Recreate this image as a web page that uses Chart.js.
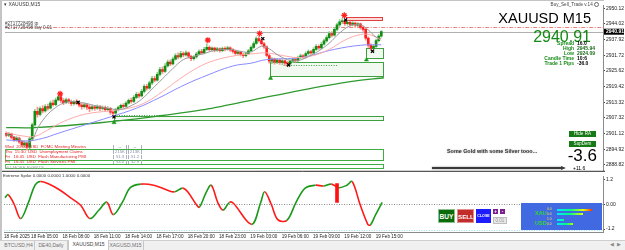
<!DOCTYPE html>
<html><head><meta charset="utf-8">
<script src="https://cdn.jsdelivr.net/npm/chart.js"></script>
<style>
html,body{margin:0;padding:0}
body{width:625px;height:250px;position:relative;overflow:hidden;background:#fff;font-family:"Liberation Sans",Arial,sans-serif;color:#000}
canvas{position:absolute;left:0}
#cMain{top:0}
#cSub{top:173px}
.t{position:absolute;white-space:nowrap;line-height:1}
.ev{position:absolute;left:5px;font-size:4.3px;color:#e02020;white-space:nowrap;line-height:1}
.vb{position:absolute;font-size:4.2px;color:#8090a8;border-left:1px solid #a8b4c4;border-right:1px solid #a8b4c4;width:12px;text-align:center;line-height:1}
.lbl{position:absolute;right:51px;font-size:5px;color:#1a8a1a;text-align:right;line-height:1;font-weight:bold}
.val{position:absolute;left:577px;font-size:5px;color:#000;line-height:1;font-weight:bold}
.btn{position:absolute;color:#fff;font-weight:bold;text-align:center;box-sizing:border-box}
.tab{position:absolute;top:241px;height:9px;font-size:5px;color:#707070;line-height:9px;text-align:center;border-right:1px solid #c8c8c8}
.bar{position:absolute;height:2.4px}
.num{position:absolute;font-size:3.2px;color:#ffe14a;line-height:1}
</style></head><body>
<canvas id="cMain" width="625" height="176"></canvas>
<canvas id="cSub" width="625" height="67"></canvas>

<div style="position:absolute;left:0;top:0;width:2px;height:240px;background:#c4c4c4"></div>
<div style="position:absolute;left:0;top:0;width:604px;height:1px;background:#c4c4c4"></div>

<div class="t" style="left:4px;top:2px;font-size:5px;color:#333">&#9662; XAUUSD,M15</div>
<div class="t" style="left:5px;top:21.5px;font-size:4.6px;color:#444">#2717728498 tp</div>
<div class="t" style="left:5px;top:26px;font-size:4.6px;color:#444">#2717725498 buy 0.01</div>
<div class="t" style="right:26px;top:1.5px;font-size:4.6px;color:#444">Buy_Sell_Trade v.14 <span style="display:inline-block;width:3px;height:3px;border:0.8px solid #666;border-radius:50%;vertical-align:middle"></span></div>
<div class="t" style="right:34px;top:11px;font-size:14.5px;color:#000">XAUUSD M15</div>
<div class="t" style="right:34px;top:29px;font-size:16px;color:#138a13">2940.91</div>

<div class="lbl" style="top:41px">Spread</div><div class="val" style="top:41px">16.0</div>
<div class="lbl" style="top:46px">High</div><div class="val" style="top:46px;color:#1a6a1a">2945.94</div>
<div class="lbl" style="top:51px">Low</div><div class="val" style="top:51px;color:#1a6a1a">2924.09</div>
<div class="lbl" style="top:56px">Candle Time</div><div class="val" style="top:56px">10:6</div>
<div class="lbl" style="top:61px">Trade 1 Pips</div><div class="val" style="top:61px">-36.0</div>

<div class="btn" style="left:569px;top:130.5px;width:27px;height:6px;background:#167a16;font-size:4.6px;line-height:6px;font-weight:normal">Hide RA</div>
<div class="btn" style="left:569px;top:140.5px;width:27px;height:6px;background:#167a16;font-size:4.6px;line-height:6px;font-weight:normal">SupDem</div>

<div class="t" style="left:447px;top:148.5px;font-size:5.4px;font-weight:bold;color:#3a3a3a;text-shadow:0 0 1.5px #999">Some Gold with some Silver tooo...</div>
<div style="position:absolute;left:432px;top:167px;width:130px;height:2px;background:#3a3a3a;box-shadow:0 0 2px #888"></div>
<div style="position:absolute;left:561px;top:165.5px;width:0;height:0;border-top:2.5px solid transparent;border-bottom:2.5px solid transparent;border-left:5px solid #3a3a3a"></div>
<div class="t" style="right:28px;top:146.8px;font-size:17px;color:#000">-3.6</div>
<div class="t" style="left:573px;top:165.5px;font-size:5px;color:#000">+11.6</div>

<div class="ev" style="top:144.8px">Wed&nbsp; 20:00&nbsp; USD&nbsp; FOMC Meeting Minutes</div>
<div class="ev" style="top:149.8px">Thu&nbsp; 15:30&nbsp; USD&nbsp; Unemployment Claims</div>
<div class="ev" style="top:154.8px">Fri&nbsp;&nbsp; 16:45&nbsp; USD&nbsp; Flash Manufacturing PMI</div>
<div class="ev" style="top:159.8px">Fri&nbsp;&nbsp; 16:45&nbsp; USD&nbsp; Flash Services PMI</div>
<div class="ev" style="top:165.5px;color:#a0a0a0">NO MORE EVENTS</div>
<div class="vb" style="left:113px;top:144.8px">--</div><div class="vb" style="left:128px;top:144.8px">--</div>
<div class="vb" style="left:113px;top:149.8px">215K</div><div class="vb" style="left:128px;top:149.8px">213K</div>
<div class="vb" style="left:113px;top:154.8px">51.3</div><div class="vb" style="left:128px;top:154.8px">51.2</div>
<div class="vb" style="left:113px;top:159.8px">53.0</div><div class="vb" style="left:128px;top:159.8px">52.9</div>

<div class="t" style="left:3px;top:174px;font-size:4.4px;color:#333">Extreme Spike 0.0000 0.0000 1.0000 0.0000</div>

<div class="btn" style="left:438px;top:209px;width:17px;height:14px;background:#0b6b0b;font-size:6.6px;line-height:14px;border:0.6px solid #8cc08c">BUY</div>
<div class="btn" style="left:457px;top:209px;width:17px;height:14px;background:#c42b2b;font-size:6.2px;line-height:14px;border:0.6px solid #e09090">SELL</div>
<div class="btn" style="left:476px;top:209px;width:15px;height:14px;background:#1c1cff;font-size:3.6px;line-height:14px">CLOSE</div>
<div class="btn" style="left:493px;top:209px;width:5px;height:5px;background:#7a1f8f;font-size:4.5px;line-height:5px">+</div>
<div class="btn" style="left:500px;top:209px;width:5px;height:5px;background:#7a1f8f;font-size:4.5px;line-height:5px">-</div>
<div class="btn" style="left:493px;top:217px;width:14px;height:7px;background:#e8e8e8;border:0.6px solid #bdbdbd;color:#999;font-weight:normal;font-size:4.5px;line-height:6px">0.01</div>

<div style="position:absolute;left:521px;top:203px;width:81px;height:27px;background:#4169e1"></div>
<div class="t" style="left:535px;top:210.5px;font-size:5.5px;color:#34d834;font-weight:bold">XAU</div>
<div class="t" style="left:535px;top:220.5px;font-size:5.5px;color:#34d834;font-weight:bold">USD</div>
<div class="num" style="left:547px;top:208.3px">0.0</div><div class="num" style="left:547px;top:213px">0.0</div>
<div class="num" style="left:547px;top:218.3px">1.0</div><div class="num" style="left:547px;top:223px">0.0</div>
<div class="bar" style="left:557px;top:208.8px;width:35px;background:linear-gradient(90deg,#00e5ff,#00ff80 40%,#e8ff00 75%,#ff3000)"></div>
<div class="bar" style="left:557px;top:213px;width:26px;background:linear-gradient(90deg,#00e5ff,#00ff80 50%,#e8ff00)"></div>
<div class="bar" style="left:557px;top:218.8px;width:7px;background:linear-gradient(90deg,#00e5ff,#00ffa0)"></div>
<div class="bar" style="left:557px;top:223px;width:16px;background:linear-gradient(90deg,#00e5ff,#00ff80 60%,#b8ff00)"></div>

<div style="position:absolute;left:0;top:240px;width:625px;height:10px;background:#f0f0f0;border-top:1px solid #cfcfcf"></div>
<div class="tab" style="left:3px;width:31px">BTCUSD,H4</div>
<div class="tab" style="left:35px;width:32px">DE40,Daily</div>
<div class="tab" style="left:68px;width:39px;background:#fff;color:#404040;top:240px;height:10px;border-left:1px solid #c8c8c8">XAUUSD,M15</div>
<div class="tab" style="left:108px;width:35px">XAGUSD,M15</div>
<div class="t" style="left:610px;top:242.5px;font-size:4.5px;color:#888">&#9664;&nbsp;&nbsp;&#9654;</div>

<script>
// ---------- DATA ----------
const opens  = [2901.2,2900.4,2901.0,2899.6,2898.6,2899.3,2897.8,2896.6,2897.4,2895.8,2899.0,2904.5,2909.8,2908.6,2910.8,2909.9,2911.6,2911.0,2913.0,2912.4,2914.2,2915.4,2914.0,2913.2,2914.3,2913.6,2912.8,2913.5,2913.0,2912.2,2911.6,2912.3,2911.4,2910.8,2911.5,2911.0,2911.6,2910.9,2911.3,2910.4,2910.9,2909.4,2909.1,2910.4,2911.2,2912.1,2911.7,2913.0,2914.1,2913.6,2915.2,2916.4,2915.8,2917.6,2919.5,2918.8,2920.9,2922.6,2922.0,2924.2,2926.1,2925.4,2927.5,2929.0,2928.3,2930.2,2931.6,2931.0,2932.4,2931.8,2932.6,2931.3,2930.4,2931.0,2932.2,2933.1,2932.6,2934.0,2934.8,2933.9,2934.5,2933.7,2934.2,2933.5,2934.3,2934.0,2934.6,2933.8,2933.2,2932.4,2932.9,2932.0,2931.5,2932.3,2933.4,2934.8,2936.3,2938.2,2937.4,2936.2,2935.0,2931.6,2929.4,2930.2,2929.0,2929.8,2928.9,2929.5,2928.6,2928.3,2929.4,2930.0,2929.6,2930.8,2931.5,2931.0,2932.4,2933.1,2932.6,2934.0,2935.2,2934.6,2936.0,2937.3,2938.6,2940.2,2939.6,2941.8,2943.6,2944.8,2945.2,2944.0,2944.6,2943.8,2944.3,2943.5,2944.0,2942.6,2941.8,2938.4,2935.6,2934.4,2935.2,2937.4,2939.2];
const highs  = [2901.8,2901.6,2901.3,2900.0,2899.9,2899.7,2898.3,2898.0,2897.8,2899.6,2905.2,2910.6,2911.4,2911.5,2912.0,2912.4,2912.6,2913.8,2914.2,2915.0,2915.6,2915.9,2914.8,2915.0,2914.9,2914.2,2914.0,2914.4,2913.6,2912.9,2913.0,2912.8,2912.2,2912.1,2912.0,2912.3,2912.1,2911.9,2911.8,2911.6,2911.3,2910.0,2910.9,2911.8,2912.6,2912.8,2913.6,2914.7,2915.0,2915.9,2917.2,2917.0,2918.4,2920.2,2920.3,2921.6,2923.5,2923.6,2925.0,2927.0,2927.2,2928.4,2929.8,2929.9,2931.0,2932.4,2932.6,2933.2,2933.0,2933.4,2933.0,2931.8,2931.6,2932.8,2933.8,2934.0,2934.8,2936.2,2935.4,2935.0,2934.9,2934.8,2934.6,2934.9,2935.0,2935.2,2935.0,2934.3,2933.7,2933.4,2933.3,2932.5,2932.8,2934.0,2935.4,2937.0,2938.9,2939.0,2938.2,2936.8,2935.4,2932.2,2930.8,2930.6,2930.4,2930.2,2930.0,2929.9,2929.2,2929.9,2930.6,2930.7,2931.4,2932.2,2932.0,2933.0,2933.8,2933.6,2934.7,2935.9,2935.8,2936.8,2938.0,2939.4,2941.0,2941.0,2942.6,2944.3,2945.6,2946.0,2945.6,2945.2,2945.0,2944.9,2944.7,2944.5,2944.3,2943.0,2942.2,2938.9,2936.2,2935.8,2938.0,2939.8,2941.3];
const lows   = [2899.8,2899.9,2899.0,2898.0,2898.1,2897.2,2896.0,2895.8,2894.6,2895.2,2898.6,2904.0,2907.5,2908.0,2909.2,2909.4,2910.2,2910.6,2911.8,2912.0,2913.8,2913.2,2912.4,2912.8,2912.9,2912.0,2912.2,2912.5,2911.5,2910.6,2911.0,2910.4,2909.6,2910.2,2910.1,2910.5,2910.0,2910.2,2909.7,2909.9,2908.6,2907.4,2908.6,2909.9,2910.8,2911.1,2911.4,2912.6,2913.0,2913.2,2914.7,2915.0,2915.4,2917.0,2918.0,2918.4,2920.2,2921.3,2921.6,2923.6,2924.6,2925.0,2927.0,2927.6,2927.9,2929.8,2930.3,2930.6,2931.0,2931.3,2930.6,2929.6,2929.8,2930.6,2931.8,2932.0,2932.2,2933.6,2933.3,2933.4,2933.0,2933.2,2932.9,2933.1,2933.4,2933.6,2933.2,2932.5,2931.8,2931.9,2931.4,2930.8,2931.0,2932.0,2933.0,2934.4,2935.9,2936.8,2935.6,2934.4,2931.0,2928.6,2928.4,2928.2,2928.4,2928.1,2928.0,2927.6,2927.2,2927.8,2928.8,2929.0,2929.2,2930.3,2930.4,2930.6,2931.9,2932.0,2932.2,2933.6,2934.0,2934.2,2935.6,2936.8,2938.0,2938.9,2939.2,2941.2,2943.0,2944.0,2943.4,2943.5,2943.1,2943.2,2942.8,2942.9,2941.9,2941.0,2937.6,2934.8,2933.6,2933.0,2934.8,2936.9,2938.8];
const closes = [2900.4,2901.0,2899.6,2898.6,2899.3,2897.8,2896.6,2897.4,2895.8,2899.0,2904.5,2909.8,2908.6,2910.8,2909.9,2911.6,2911.0,2913.0,2912.4,2914.2,2915.4,2914.0,2913.2,2914.3,2913.6,2912.8,2913.5,2913.0,2912.2,2911.6,2912.3,2911.4,2910.8,2911.5,2911.0,2911.6,2910.9,2911.3,2910.4,2910.9,2909.4,2909.1,2910.4,2911.2,2912.1,2911.7,2913.0,2914.1,2913.6,2915.2,2916.4,2915.8,2917.6,2919.5,2918.8,2920.9,2922.6,2922.0,2924.2,2926.1,2925.4,2927.5,2929.0,2928.3,2930.2,2931.6,2931.0,2932.4,2931.8,2932.6,2931.3,2930.4,2931.0,2932.2,2933.1,2932.6,2934.0,2934.8,2933.9,2934.5,2933.7,2934.2,2933.5,2934.3,2934.0,2934.6,2933.8,2933.2,2932.4,2932.9,2932.0,2931.5,2932.3,2933.4,2934.8,2936.3,2938.2,2937.4,2936.2,2935.0,2931.6,2929.4,2930.2,2929.0,2929.8,2928.9,2929.5,2928.6,2928.3,2929.4,2930.0,2929.6,2930.8,2931.5,2931.0,2932.4,2933.1,2932.6,2934.0,2935.2,2934.6,2936.0,2937.3,2938.6,2940.2,2939.6,2941.8,2943.6,2944.8,2945.2,2944.0,2944.6,2943.8,2944.3,2943.5,2944.0,2942.6,2941.8,2938.4,2935.6,2934.4,2935.2,2937.4,2939.2,2940.91];

const grayX  = [0,4,8,10,12,15,18,22,26,30,35,40,44,48,52,56,60,64,68,72,76,80,86,90,94,98,101,104,108,112,116,120,124,128,132,136,139,142,144];
const grayY  = [2900.8,2899.5,2897.5,2898.5,2903,2907.5,2910.5,2913,2913.6,2913,2911.8,2910.8,2910.5,2912,2914.5,2918.5,2922.5,2926.5,2930,2931.2,2932.4,2933.5,2934,2933.2,2933,2935.2,2934.2,2932,2930,2929.6,2931.2,2933.4,2936.4,2940.4,2943.2,2943.6,2941.6,2938.8,2938.2];
const pinkX  = [0,6,11,16,22,30,40,48,54,60,66,72,78,86,94,100,106,112,118,124,130,136,140,144];
const pinkY  = [2901.5,2900.2,2900,2902.5,2905.8,2908.6,2910,2911.2,2913.5,2917.5,2922,2926,2929,2931.2,2932.2,2932.6,2931.6,2930.8,2931.6,2934,2937.6,2939.8,2939.6,2937.6];
const blueX  = [0,8,14,20,30,40,50,59,67,75,87,94,100,113,126,136,144];
const blueY  = [2898.6,2898.2,2899.2,2901.2,2904.4,2907.6,2911,2915.2,2919.4,2923,2927.5,2928.6,2930,2930.8,2934,2935.6,2935.8];
const greenX = [0,11,36,56,75,94,113,132,145];
const greenY = [2903.4,2903.4,2905.3,2907.6,2910.3,2914.1,2918,2921.4,2922.9];

const starX  = [20.7,77.4,97.3,129.8];
const starY  = [2916.6,2937.6,2940.2,2947.3];
const crossX = [27.6,41.4,98.5,108.4,130.3,140.6];
const crossY = [2913.3,2907.6,2938.2,2927.9,2945.5,2933.3];
const arrowX = [41.4,101.5,138.3];
const arrowY = [2905.4,2922.7,2929.9];

const zoneFrom = [130.3,138.3,101.2,41.4,-0.38,-0.38];
const zoneTo   = [144.4,144.8,144.8,144.8,144.8,144.8];
const zoneHigh = [2946.7,2934.4,2929.0,2908.0,2894.95,2889.2];
const zoneLow  = [2945.5,2930.6,2923.7,2906.4,2890.85,2887.55];
const zoneKind = ['supply','demand','demand','demand','news','news'];
const dotFrom  = [106.5,41.4];
const dotTo    = [127.2,60];
const dotPrice = [2927.9,2908.4];

const levelPrice = [2942.8,2940.6,2940.91];
const levelKind  = ['tp','buy','bid'];

const priceTicks = [2950.12,2944.02,2937.92,2931.72,2925.62,2919.42,2913.32,2907.32,2901.12,2894.92,2888.82];
const timeTickIdx = [-0.38,10,22,34,46,58,70,82,94,106,118,130,142];
const timeTickLabels = ["18 Feb 2025","18 Feb 05:00","18 Feb 08:00","18 Feb 11:00","18 Feb 14:00","18 Feb 17:00","18 Feb 20:00","18 Feb 23:00","19 Feb 03:00","19 Feb 06:00","19 Feb 09:00","19 Feb 12:00","19 Feb 15:00"];

const oscX = [0,1.2,3.5,6,9,11.5,13.5,17,21,25,29,32.5,36,39,41.5,45,48,52,57,62,65,68,70,73.5,74.5,77,79,81.5,83.5,86,87.5,94.5,98,99.5,102,104.5,108,111.5,115,119,122,125,128,131,133,136,139,140,142,144.5];
const oscY = [0.32,0.46,0.0,-0.69,0.09,0.92,1.1,0.97,0.69,0.32,-0.05,-0.69,-0.28,0.1,-0.5,0.1,0.8,0.97,0.92,0.69,0.6,0.78,0.6,-0.05,-0.14,0.55,0.92,0.09,-0.28,0.09,0.05,-0.97,0.1,0.6,0.0,-0.74,-0.78,0.09,0.78,0.92,0.88,0.97,0.8,0.92,1.1,0.0,-0.97,-1.0,-0.5,0.09];
const oscTicks = [1.2,0,-1.2];
const oscTickLabels = ["1.2","0.00","-1.2"];
const spikeX = [127.2];
const spikeLow = [0.09];
const spikeHigh = [1.0];

// ---------- BUILD ----------
const X_MIN = -0.38, X_MAX = 229.1;
const FONT = 'Liberation Sans';
const pts = (xs, ys) => xs.map((x,i)=>({x, y:ys[i]}));
const bull = closes.map((c,i)=>c>=opens[i]);
const wickData = closes.map((c,i)=>({x:i, y:[lows[i], highs[i]]}));
const bodyData = closes.map((c,i)=>({x:i, y:[opens[i], c]}));

const zoneStyle = {
  supply:{fill:'rgba(255,150,150,0.35)', line:'#e04040'},
  demand:{fill:'rgba(120,200,120,0.10)', line:'#3fa03f'},
  news:  {fill:'rgba(0,0,0,0)', line:'#3fae3f'}
};

const mainPlugin = {
  id:'mainOverlay',
  beforeDatasetsDraw(chart){
    const {ctx, chartArea:a, scales:{x,y}} = chart;
    ctx.save();
    ctx.beginPath(); ctx.rect(a.left, a.top, a.width, a.height); ctx.clip();
    zoneFrom.forEach((f,i)=>{
      const st = zoneStyle[zoneKind[i]];
      const x0 = Math.round(x.getPixelForValue(f))+0.5, x1 = Math.round(x.getPixelForValue(zoneTo[i]))+0.5;
      const y0 = Math.round(y.getPixelForValue(zoneHigh[i]))+0.5, y1 = Math.round(y.getPixelForValue(zoneLow[i]))+0.5;
      ctx.fillStyle = st.fill; ctx.fillRect(x0, y0, x1-x0, y1-y0);
      ctx.strokeStyle = st.line; ctx.lineWidth = 1; ctx.strokeRect(x0, y0, x1-x0, y1-y0);
    });
    ctx.setLineDash([1,1.5]); ctx.strokeStyle = '#3fa03f';
    dotFrom.forEach((f,i)=>{
      const yy = Math.round(y.getPixelForValue(dotPrice[i]))+0.5;
      ctx.beginPath(); ctx.moveTo(x.getPixelForValue(f), yy); ctx.lineTo(x.getPixelForValue(dotTo[i]), yy); ctx.stroke();
    });
    levelPrice.forEach((p,i)=>{
      const yy = Math.round(y.getPixelForValue(p))+0.5;
      const k = levelKind[i];
      if (k==='tp'){ ctx.strokeStyle='#f08080'; ctx.setLineDash([4,1.5,1,1.5]); }
      else if (k==='buy'){ ctx.strokeStyle='#3a9a3a'; ctx.setLineDash([3,2]); }
      else { ctx.strokeStyle='#b0b0b0'; ctx.setLineDash([]); }
      ctx.beginPath(); ctx.moveTo(a.left, yy); ctx.lineTo(a.right, yy); ctx.stroke();
    });
    ctx.restore();
  },
  afterDraw(chart){
    const {ctx, chartArea:a, scales:{y}} = chart;
    ctx.save();
    ctx.strokeStyle = '#2a2a2a'; ctx.lineWidth = 1;
    ctx.beginPath(); ctx.moveTo(0, a.bottom+0.5); ctx.lineTo(a.right+2, a.bottom+0.5); ctx.stroke();
    const bidIdx = levelKind.indexOf('bid');
    const yy = y.getPixelForValue(levelPrice[bidIdx]);
    ctx.fillStyle = '#000'; ctx.fillRect(a.right+1, yy-3, 20, 6);
    ctx.fillStyle = '#fff'; ctx.font = 'bold 5px "'+FONT+'"'; ctx.textBaseline='middle'; ctx.textAlign='left';
    ctx.fillText(levelPrice[bidIdx].toFixed(2), a.right+3, yy+0.3);
    ctx.restore();
  }
};

new Chart(document.getElementById('cMain'), {
  type:'bar',
  data:{datasets:[
    {type:'line', data:pts(starX,starY), showLine:false, pointStyle:'star', pointRadius:3, borderColor:'#ff2020', borderWidth:1.2, order:0},
    {type:'line', data:pts(crossX,crossY), showLine:false, pointStyle:'crossRot', pointRadius:2.2, borderColor:'#000', borderWidth:1.2, order:0},
    {type:'line', data:pts(arrowX,arrowY), showLine:false, pointStyle:'triangle', pointRadius:2.4, backgroundColor:'#1a9a1a', borderColor:'#1a9a1a', borderWidth:0.5, order:0},
    {type:'line', data:pts(grayX,grayY), borderColor:'#9a9a9a', borderWidth:1, pointRadius:0, tension:0.4, order:1},
    {type:'line', data:pts(pinkX,pinkY), borderColor:'#ffaaaa', borderWidth:1, pointRadius:0, tension:0.4, order:1},
    {type:'line', data:pts(blueX,blueY), borderColor:'#8a8aff', borderWidth:1, pointRadius:0, tension:0.4, order:1},
    {type:'line', data:pts(greenX,greenY), borderColor:'#2f9a2f', borderWidth:1.3, pointRadius:0, tension:0.3, order:1},
    {type:'bar', data:bodyData, backgroundColor:bull.map(b=>b?'#138d13':'#ff1e1e'), barThickness:2, grouped:false, minBarLength:1, order:2},
    {type:'bar', data:wickData, backgroundColor:bull.map(b=>b?'#8fd08f':'#ff9090'), barThickness:1, grouped:false, order:3}
  ]},
  options:{
    responsive:false, animation:false, events:[],
    layout:{padding:{left:4, top:3, right:0, bottom:4}},
    plugins:{legend:{display:false}, tooltip:{enabled:false}},
    scales:{
      x:{type:'linear', min:X_MIN, max:X_MAX, offset:false, display:false},
      y:{position:'right', min:2886.52, max:2951.27,
        afterFit(s){ s.width = 22; },
        afterBuildTicks(s){ s.ticks = priceTicks.map(v=>({value:v})); },
        ticks:{font:{size:5, family:FONT, lineHeight:1}, color:'#222', padding:1, callback:v=>Number(v).toFixed(2)},
        grid:{drawOnChartArea:false, tickLength:2, color:'#444'},
        border:{color:'#8a8a8a'}
      }
    }
  },
  plugins:[mainPlugin]
});

const subPlugin = {
  id:'subOverlay',
  beforeDatasetsDraw(chart){
    const {ctx, chartArea:a, scales:{y}} = chart;
    ctx.save();
    ctx.lineWidth = 1;
    ctx.setLineDash([1,1.5]); ctx.strokeStyle = '#8a8a8a';
    let yy = Math.round(y.getPixelForValue(0))+0.5;
    ctx.beginPath(); ctx.moveTo(a.left, yy); ctx.lineTo(a.right, yy); ctx.stroke();
    ctx.strokeStyle = '#9fe0f0';
    yy = a.bottom - 1.5;
    ctx.beginPath(); ctx.moveTo(a.left, yy); ctx.lineTo(a.right, yy); ctx.stroke();
    ctx.restore();
  }
};

new Chart(document.getElementById('cSub'), {
  type:'bar',
  data:{datasets:[
    {type:'line', data:pts(oscX,oscY), borderWidth:1.6, pointRadius:0, tension:0.35,
     borderColor:'#1a9a1a',
     segment:{borderColor:c=> c.p1.parsed.y >= c.p0.parsed.y ? '#1a9a1a' : '#ff1a1a'}, order:1},
    {type:'bar', data:spikeX.map((x,i)=>({x, y:[spikeLow[i], spikeHigh[i]]})), backgroundColor:'#ff1010', barThickness:3, grouped:false, order:0}
  ]},
  options:{
    responsive:false, animation:false, events:[],
    layout:{padding:{left:4, top:1, right:0, bottom:0}},
    plugins:{legend:{display:false}, tooltip:{enabled:false}},
    scales:{
      x:{type:'linear', min:X_MIN, max:X_MAX, offset:false, position:'bottom',
        afterFit(s){ s.height = 8; },
        afterBuildTicks(s){ s.ticks = timeTickIdx.map(v=>({value:v})); },
        ticks:{font:{size:4.6, family:FONT, lineHeight:1}, color:'#222', padding:0.5, align:'start', autoSkip:false, maxRotation:0, minRotation:0,
          callback:(v,i)=>timeTickLabels[i]},
        grid:{drawOnChartArea:false, tickLength:1.5, color:'#666'},
        border:{color:'#8a8a8a'}
      },
      y:{position:'right', min:-1.34, max:1.34,
        afterFit(s){ s.width = 22; },
        afterBuildTicks(s){ s.ticks = oscTicks.map(v=>({value:v})); },
        ticks:{font:{size:5, family:FONT, lineHeight:1}, color:'#222', padding:1, callback:(v,i)=>oscTickLabels[i]},
        grid:{drawOnChartArea:false, tickLength:2, color:'#444'},
        border:{color:'#8a8a8a'}
      }
    }
  },
  plugins:[subPlugin]
});
</script>
</body></html>
